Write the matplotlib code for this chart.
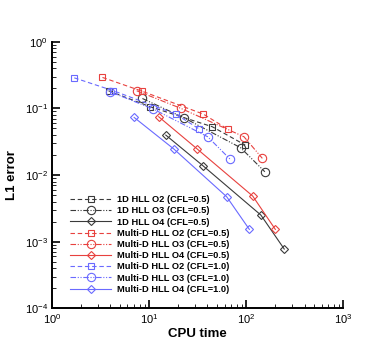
"""Convergence: L1 error vs CPU time for 1D and multi-D HLL schemes."""
import matplotlib
matplotlib.use("Agg")
import matplotlib.pyplot as plt  # noqa: E402
from matplotlib.ticker import LogLocator, NullFormatter  # noqa: E402

plt.rcParams["font.family"] = ["Liberation Sans", "DejaVu Sans"]
plt.rcParams["mathtext.default"] = "regular"

# values (CPU time, L1 error)
t_1d_o2 = [3.83, 10.3, 44.9, 98.0]
e_1d_o2 = [0.184, 0.106, 0.0531, 0.0282]
t_1d_o3 = [8.56, 22.9, 87.9, 156.0]
e_1d_o3 = [0.141, 0.0724, 0.0257, 0.0112]
t_1d_o4 = [14.9, 36.3, 142.0, 247.0]
e_1d_o4 = [0.0398, 0.01365, 0.00251, 0.000776]

t_md_o2 = [3.32, 8.43, 36.3, 64.6]
e_md_o2 = [0.292, 0.182, 0.0822, 0.049]
t_md_o3 = [7.48, 21.4, 95.1, 147.0]
e_md_o3 = [0.184, 0.100, 0.0376, 0.0178]
t_md_o4 = [12.6, 31.2, 117.0, 200.0]
e_md_o4 = [0.075, 0.0248, 0.00484, 0.00153]

t_md1_o2 = [1.70, 4.31, 18.9, 33.0]
e_md1_o2 = [0.288, 0.184, 0.0822, 0.049]
t_md1_o3 = [3.98, 11.1, 40.2, 68.2]
e_md1_o3 = [0.178, 0.0977, 0.0376, 0.0174]
t_md1_o4 = [7.03, 18.1, 63.1, 108.0]
e_md1_o4 = [0.0733, 0.0245, 0.00473, 0.00153]

labels = [
    "1D HLL O2 (CFL=0.5)", "1D HLL O3 (CFL=0.5)", "1D HLL O4 (CFL=0.5)",
    "Multi-D HLL O2 (CFL=0.5)", "Multi-D HLL O3 (CFL=0.5)", "Multi-D HLL O4 (CFL=0.5)",
    "Multi-D HLL O2 (CFL=1.0)", "Multi-D HLL O3 (CFL=1.0)", "Multi-D HLL O4 (CFL=1.0)",
]

BLACK, RED, BLUE = "#3a3a3a", "#e8413e", "#6a6aff"
DASH = (0, (4, 2.5))
DDOT = (0, (5, 1.5, 1, 1.5, 1, 1.5))
styles = {"O2": (DASH, "s", 4.2), "O3": (DDOT, "o", 6), "O4": ("-", "D", 4.3)}

series = [
    (t_1d_o2, e_1d_o2, BLACK, "O2"), (t_1d_o3, e_1d_o3, BLACK, "O3"),
    (t_1d_o4, e_1d_o4, BLACK, "O4"),
    (t_md_o2, e_md_o2, RED, "O2"), (t_md_o3, e_md_o3, RED, "O3"),
    (t_md_o4, e_md_o4, RED, "O4"),
    (t_md1_o2, e_md1_o2, BLUE, "O2"), (t_md1_o3, e_md1_o3, BLUE, "O3"),
    (t_md1_o4, e_md1_o4, BLUE, "O4"),
]

fig = plt.figure(figsize=(3.9, 3.47), dpi=100)
ax = fig.add_axes([0.133, 0.1115, 0.747, 0.768])

for (t, e, c, o), lab in zip(series, labels):
    ls, mk, ms = styles[o]
    ax.plot(t, e, color=c, ls=ls, lw=0.8, marker=mk, ms=ms,
            mfc="none", mec=c, mew=0.8, label=lab)

ax.set_xscale("log"); ax.set_yscale("log")
ax.set_xlim(1, 1000); ax.set_ylim(1e-4, 1)
ax.yaxis.set_major_locator(LogLocator(base=10, numticks=10))
ax.yaxis.set_minor_locator(LogLocator(base=10, subs=range(2, 10), numticks=10))
ax.xaxis.set_minor_locator(LogLocator(base=10, subs=range(2, 10), numticks=10))
ax.xaxis.set_minor_formatter(NullFormatter())
ax.yaxis.set_minor_formatter(NullFormatter())

for s in ("top", "right"):
    ax.spines[s].set_visible(False)
for s in ("left", "bottom"):
    ax.spines[s].set_linewidth(1.4)
ax.tick_params(which="major", direction="in", length=6, width=1.2,
               labelsize=8, pad=3)
ax.tick_params(axis="y", which="major", pad=3)
ax.tick_params(which="minor", direction="in", length=3, width=0.6)

ax.set_xlabel("CPU time", fontsize=9.5, fontweight="bold", labelpad=1)
ax.set_ylabel("L1 error", fontsize=9.5, fontweight="bold", labelpad=5)

leg = ax.legend(loc="lower left", bbox_to_anchor=(0.05, 0.04), frameon=False,
                prop={"size": 6.7, "weight": "bold"}, handlelength=4.4,
                handletextpad=0.65, labelspacing=0.24, borderaxespad=0)

fig.savefig("out.png", dpi=100)
